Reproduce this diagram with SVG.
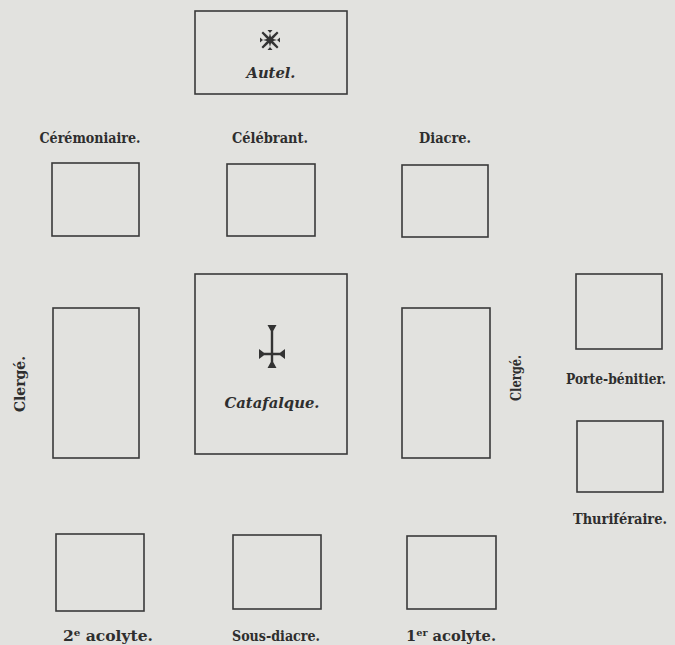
<svg xmlns="http://www.w3.org/2000/svg" width="675" height="645" viewBox="0 0 675 645">
<style>
.box{fill:none;stroke:#3a3a3a;stroke-width:1.6}
.lbl{font-family:"DejaVu Serif Condensed","DejaVu Serif",serif;font-weight:bold;font-size:15px;fill:#2e2e2e;text-anchor:middle}
.it{font-family:"DejaVu Serif Condensed","DejaVu Serif",serif;font-style:italic;font-weight:bold;font-size:15px;fill:#2e2e2e;text-anchor:middle}
.sym{fill:#333;stroke:none}
</style>
<rect width="675" height="645" fill="#e2e2df"/>
<g id="autel">
<rect class="box" x="195" y="11" width="152" height="83"/>
<g class="sym" transform="translate(270,40)">
<path d="M-2.5,-10 L2.5,-10 L0,-7 L1.4,-1.4 L7,0 L10,-2.5 L10,2.5 L7,0 L1.4,1.4 L0,7 L2.5,10 L-2.5,10 L0,7 L-1.4,1.4 L-7,0 L-10,2.5 L-10,-2.5 L-7,0 L-1.4,-1.4 L0,-7 Z"/>
<path d="M-7,-8.5 L-8.5,-7 L-2,0 L-8.5,7 L-7,8.5 L0,2 L7,8.5 L8.5,7 L2,0 L8.5,-7 L7,-8.5 L0,-2 Z"/>
</g>
<text class="it" x="271" y="78" textLength="49" lengthAdjust="spacingAndGlyphs">Autel.</text>
</g>
<g id="ceremoniaire">
<text class="lbl" x="90" y="143" textLength="101" lengthAdjust="spacingAndGlyphs">Cérémoniaire.</text>
<rect class="box" x="52" y="163" width="87" height="73"/>
</g>
<g id="celebrant">
<text class="lbl" x="270" y="143" textLength="76" lengthAdjust="spacingAndGlyphs">Célébrant.</text>
<rect class="box" x="227" y="164" width="88" height="72"/>
</g>
<g id="diacre">
<text class="lbl" x="445" y="143" textLength="52" lengthAdjust="spacingAndGlyphs">Diacre.</text>
<rect class="box" x="402" y="165" width="86" height="72"/>
</g>
<g id="catafalque">
<rect class="box" x="195" y="274" width="152" height="180"/>
<g class="sym" transform="translate(272,0)">
<path d="M-4.5,325 L4.5,325 L1.2,331 L1.2,362 L4.5,368 L-4.5,368 L-1.2,362 L-1.2,331 Z"/>
<path d="M-13,349 L-8,352.8 L8,352.8 L13,349 L13,359 L8,355.2 L-8,355.2 L-13,359 Z"/>
</g>
<text class="it" x="272" y="408" textLength="95" lengthAdjust="spacingAndGlyphs">Catafalque.</text>
</g>
<g id="clerge-left">
<rect class="box" x="53" y="308" width="86" height="150"/>
<text class="lbl" transform="translate(25,384) rotate(-90)" textLength="56" lengthAdjust="spacingAndGlyphs">Clergé.</text>
</g>
<g id="clerge-right">
<rect class="box" x="402" y="308" width="88" height="150"/>
<text class="lbl" transform="translate(521,378) rotate(-90)" textLength="46" lengthAdjust="spacingAndGlyphs">Clergé.</text>
</g>
<g id="porte-benitier">
<rect class="box" x="576" y="274" width="86" height="75"/>
<text class="lbl" x="616" y="384" font-size="14" textLength="100" lengthAdjust="spacingAndGlyphs">Porte-bénitier.</text>
</g>
<g id="thuriferaire">
<rect class="box" x="577" y="421" width="86" height="71"/>
<text class="lbl" x="620" y="524" textLength="94" lengthAdjust="spacingAndGlyphs">Thuriféraire.</text>
</g>
<g id="acolyte2">
<rect class="box" x="56" y="534" width="88" height="77"/>
<text class="lbl" x="108" y="641" textLength="90" lengthAdjust="spacingAndGlyphs">2<tspan font-size="10" dy="-5">e</tspan><tspan dy="5"> acolyte.</tspan></text>
</g>
<g id="sous-diacre">
<rect class="box" x="233" y="535" width="88" height="74"/>
<text class="lbl" x="276" y="641" textLength="88" lengthAdjust="spacingAndGlyphs">Sous-diacre.</text>
</g>
<g id="acolyte1">
<rect class="box" x="407" y="536" width="89" height="73"/>
<text class="lbl" x="451" y="641" textLength="90" lengthAdjust="spacingAndGlyphs">1<tspan font-size="10" dy="-5">er</tspan><tspan dy="5"> acolyte.</tspan></text>
</g>
</svg>
